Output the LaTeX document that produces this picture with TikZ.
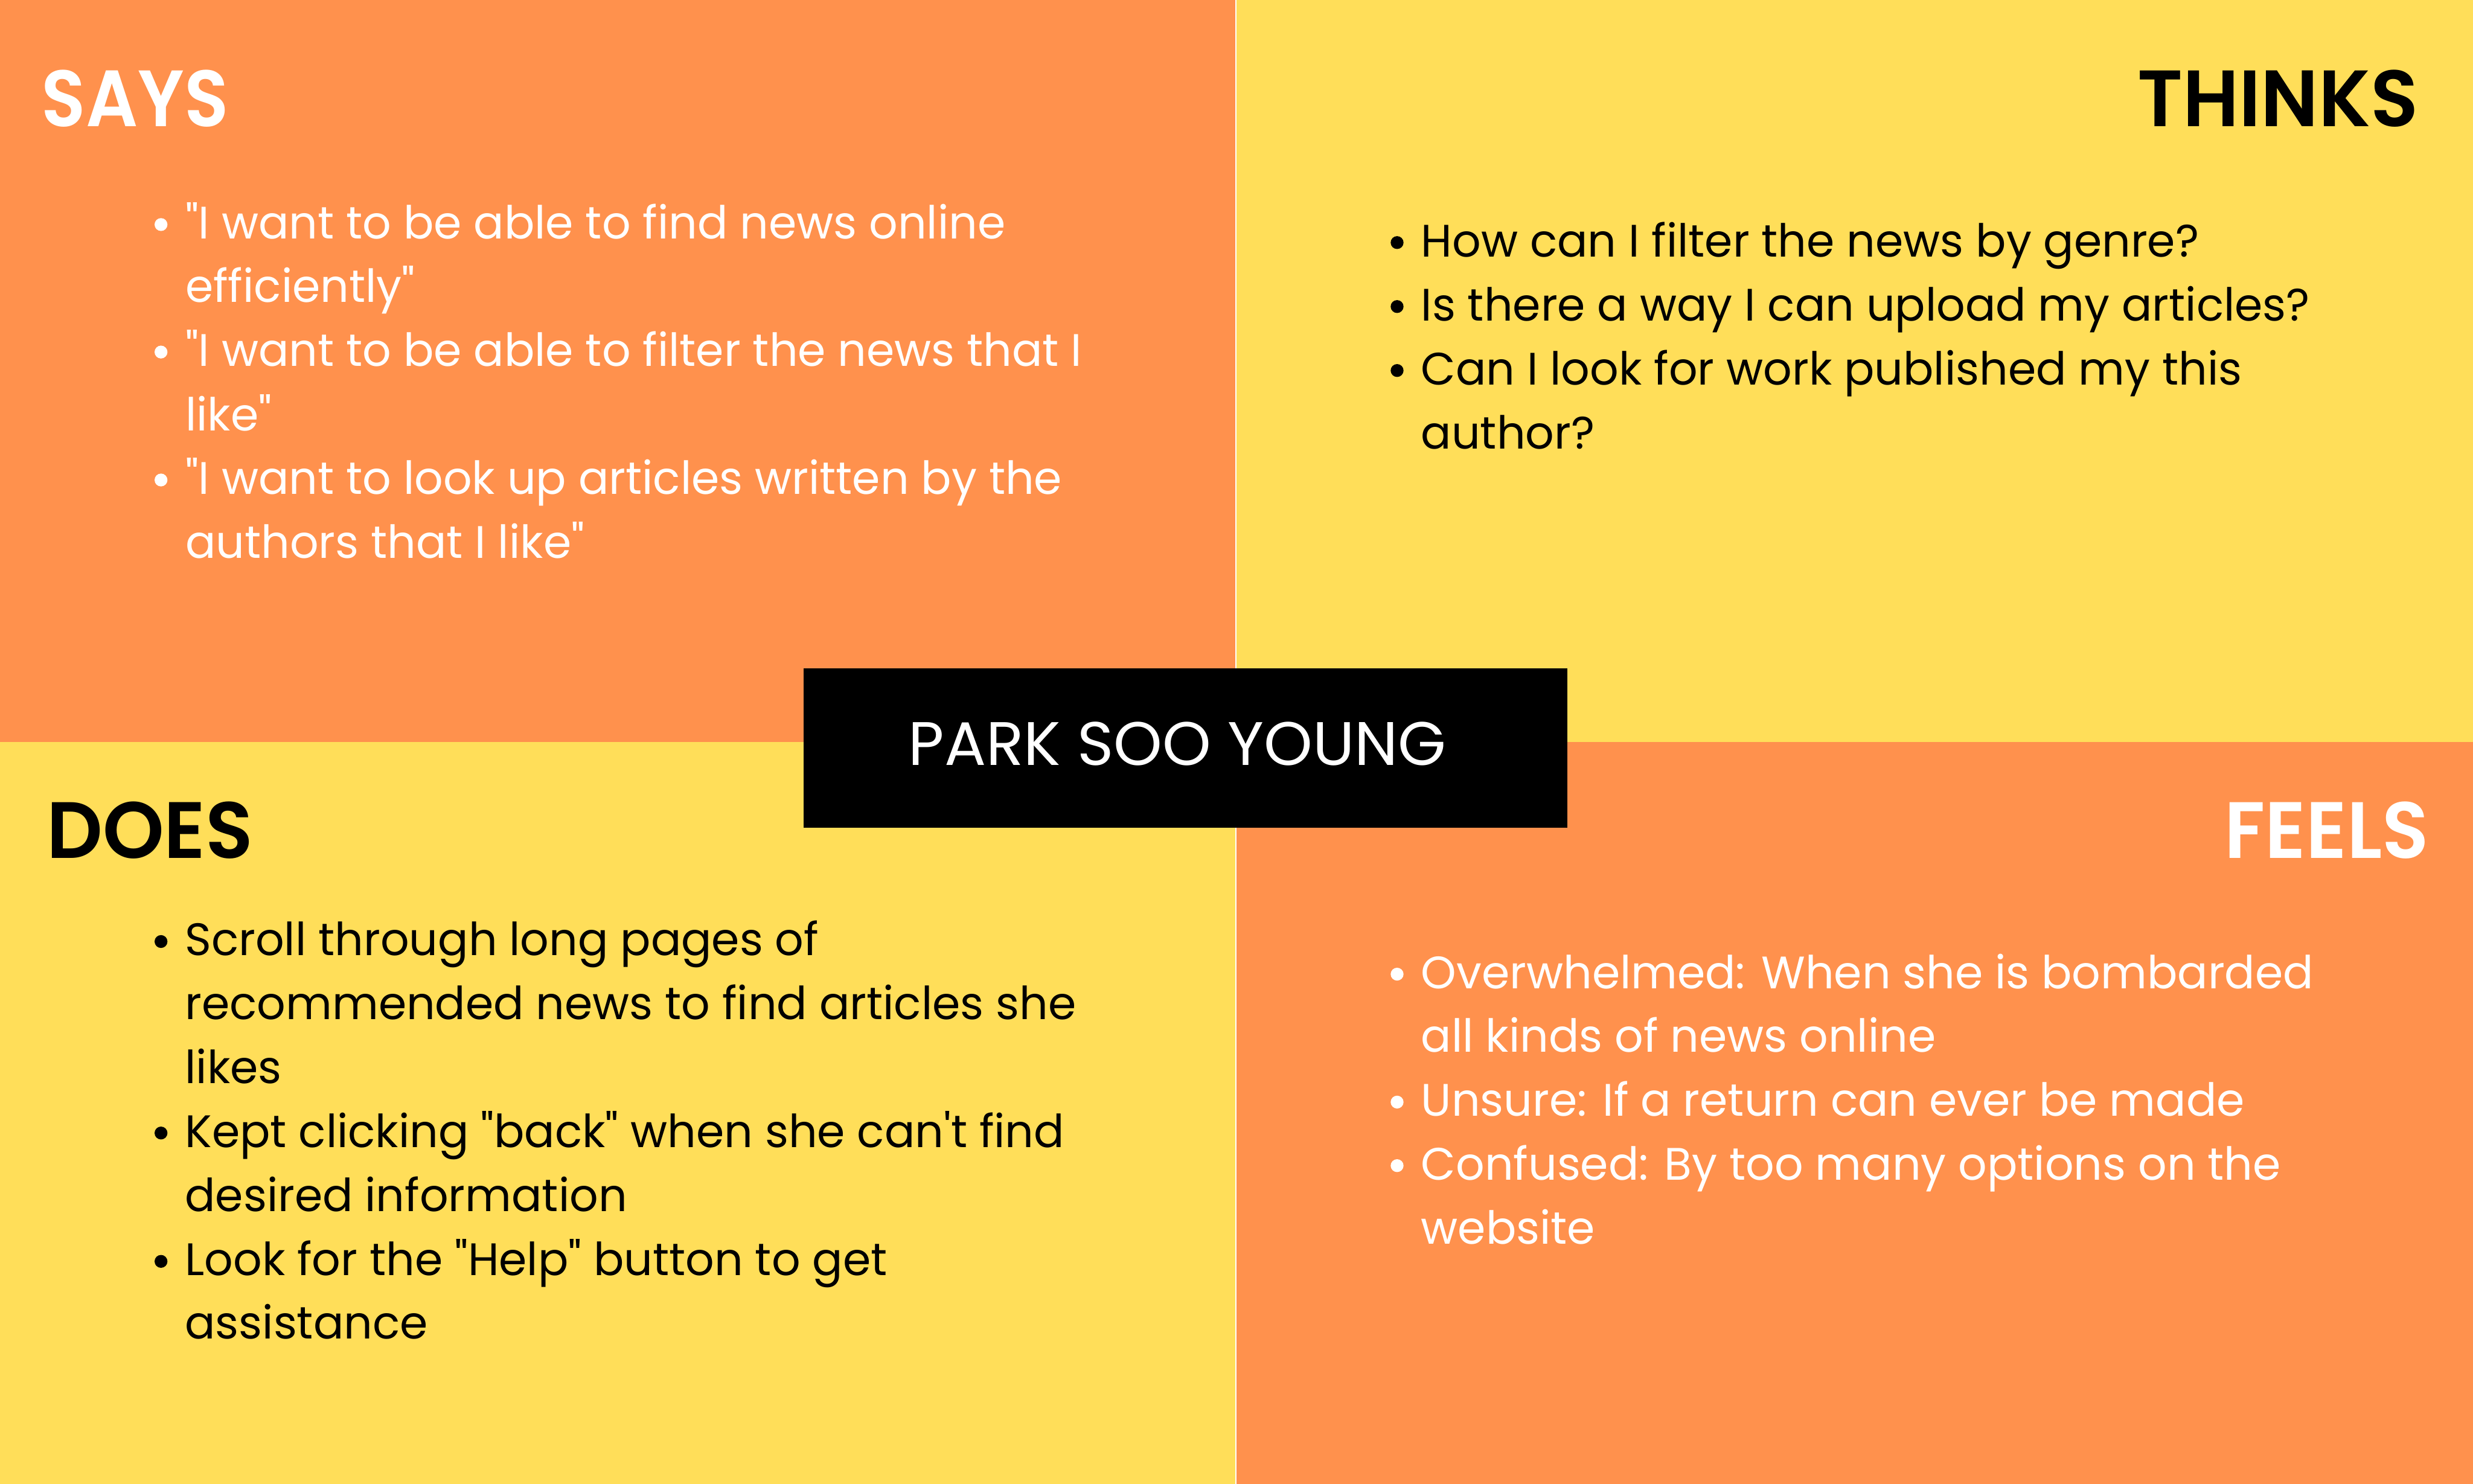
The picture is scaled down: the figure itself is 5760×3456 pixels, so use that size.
\documentclass[tikz,border=0pt]{standalone}
\usepackage{fontspec}
\usepackage{graphicx}
\newfontfamily\bodyfont{Poppins}
\IfFontExistsTF{Poppins SemiBold}
  {\newfontfamily\headfontraw{Poppins SemiBold}\newcommand\headfont{\headfontraw}}
  {\newfontfamily\headfontraw{Poppins}\newcommand\headfont{\headfontraw\bfseries}}
\newfontfamily\namefont{Poppins}
\definecolor{qorange}{HTML}{FF914D}
\definecolor{qyellow}{HTML}{FFDE59}
\newlength\mytmplen
\newlength\mybodylen
\newcommand\fitw[2]{\settowidth\mytmplen{#2}\pgfmathsetmacro\myratio{#1/\mytmplen}\scalebox{\myratio}[1]{#2}}
\newcommand\bl[1]{\scalebox{\bodysx}[1]{#1}}
\tikzset{
  txt/.style={inner sep=0pt, outer sep=0pt, anchor=base west, font=\bodyfont\fontsize{10.6}{12}\selectfont},
  wtxt/.style={txt, text=white},
  btxt/.style={txt, text=black},
  head/.style={inner sep=0pt, outer sep=0pt, font=\headfont\fontsize{18.6}{20}\selectfont},
  bulletdot/.style={circle, inner sep=0pt, minimum size=3pt, fill=#1, draw=none}
}
\begin{document}
\settowidth\mybodylen{\bodyfont\fontsize{10.6}{12}\selectfont "I want to be able to find news online}%
\pgfmathsetmacro\bodysx{191/\mybodylen}%
\begin{tikzpicture}[x=0.1pt, y=-0.1pt]
\useasboundingbox (0,0) rectangle (5760,3456);
% quadrants
\fill[qorange] (0,0) rectangle (2878,1728);
\fill[qyellow] (2878,0) rectangle (5760,1728);
\fill[qyellow] (0,1728) rectangle (2878,3456);
\fill[qorange] (2878,1728) rectangle (5760,3456);
\draw[white, line width=0.3pt] (2878,0) -- (2878,3456);
% headings
\node[head, text=white, anchor=base west] (says) at (97,294) {\fitw{43.6}{SAYS}};
\node[head, text=black, anchor=base east] (thinks) at (5633,295) {\fitw{65.5}{THINKS}};
\node[head, text=black, anchor=base west] (does) at (109,1999) {\fitw{48.1}{DOES}};
\node[head, text=white, anchor=base east] (feels) at (5657,1999) {\fitw{47.6}{FEELS}};
% SAYS
\node[bulletdot=white] (sb1) at (375,523) {};
\node[bulletdot=white] (sb2) at (375,820) {};
\node[bulletdot=white] (sb3) at (375,1118) {};
\node[wtxt] (s1) at (432,556) {\bl{"I want to be able to find news online}};
\node[wtxt] (s2) at (432,704) {\bl{efficiently"}};
\node[wtxt] (s3) at (432,853) {\bl{"I want to be able to filter the news that I}};
\node[wtxt] (s4) at (432,1003) {\bl{like"}};
\node[wtxt] (s5) at (432,1151) {\bl{"I want to look up articles written by the}};
\node[wtxt] (s6) at (432,1300) {\bl{authors that I like"}};
% THINKS
\node[bulletdot=black] (tb1) at (3254,565) {};
\node[bulletdot=black] (tb2) at (3254,714) {};
\node[bulletdot=black] (tb3) at (3254,863) {};
\node[btxt] (t1) at (3310,598) {\bl{How can I filter the news by genre?}};
\node[btxt] (t2) at (3310,747) {\bl{Is there a way I can upload my articles?}};
\node[btxt] (t3) at (3310,896) {\bl{Can I look for work published my this}};
\node[btxt] (t4) at (3310,1045) {\bl{author?}};
% DOES
\node[bulletdot=black] (db1) at (375,2193) {};
\node[bulletdot=black] (db2) at (375,2639) {};
\node[bulletdot=black] (db3) at (375,2938) {};
\node[btxt] (d1) at (431,2226) {\bl{Scroll through long pages of}};
\node[btxt] (d2) at (431,2375) {\bl{recommended news to find articles she}};
\node[btxt] (d3) at (431,2524) {\bl{likes}};
\node[btxt] (d4) at (431,2672) {\bl{Kept clicking "back" when she can't find}};
\node[btxt] (d5) at (431,2821) {\bl{desired information}};
\node[btxt] (d6) at (431,2971) {\bl{Look for the "Help" button to get}};
\node[btxt] (d7) at (431,3119) {\bl{assistance}};
% FEELS
\node[bulletdot=white] (fb1) at (3254,2269) {};
\node[bulletdot=white] (fb2) at (3254,2567) {};
\node[bulletdot=white] (fb3) at (3254,2715) {};
\node[wtxt] (f1) at (3310,2302) {\bl{Overwhelmed: When she is bombarded}};
\node[wtxt] (f2) at (3310,2451) {\bl{all kinds of news online}};
\node[wtxt] (f3) at (3310,2600) {\bl{Unsure: If a return can ever be made}};
\node[wtxt] (f4) at (3310,2748) {\bl{Confused: By too many options on the}};
\node[wtxt] (f5) at (3310,2897) {\bl{website}};
% center name box
\node[fill=black, inner sep=0pt, outer sep=0pt, minimum width=177.9pt, minimum height=37.2pt] (namebox) at (2761.5,1742) {};
\node[inner sep=0pt, outer sep=0pt, anchor=base west, text=white, font=\namefont\fontsize{14.3}{16}\selectfont] (name) at (2116,1782) {\fitw{125.3}{PARK SOO YOUNG}};
\end{tikzpicture}
\end{document}
